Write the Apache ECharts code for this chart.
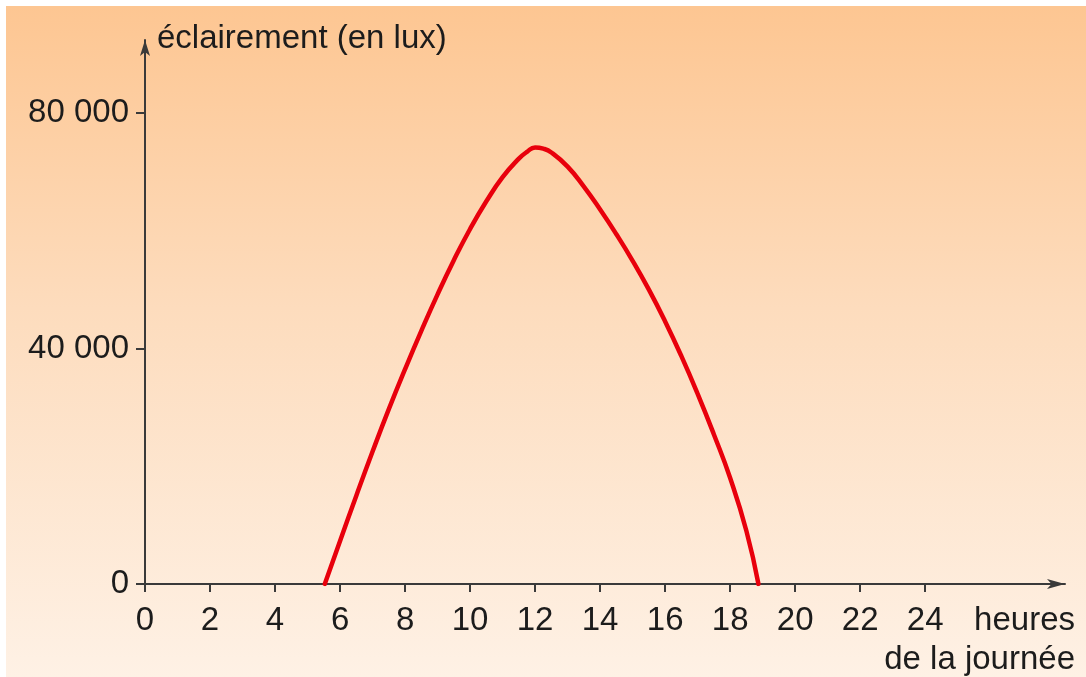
<!DOCTYPE html>
<html>
<head>
<meta charset="utf-8">
<script src="https://cdn.jsdelivr.net/npm/echarts@6/dist/echarts.min.js"></script>
<style>
  html, body { margin: 0; padding: 0; background: #ffffff; }
  #wrap { position: relative; width: 1086px; height: 677px; background: #ffffff; overflow: hidden; }
  #bg { position: absolute; left: 6px; top: 6px; right: 0; bottom: 0;
        background: linear-gradient(to bottom, #fdc692 0%, #fddcbd 45%, #fef1e5 100%); }
  #chart { position: absolute; left: 0; top: 0; width: 1086px; height: 677px; }
</style>
</head>
<body>
<div id="wrap"><div id="bg"></div><div id="chart"></div></div>
<script>
// Data
var hours = [5.53, 6.0, 6.5, 7.0, 7.5, 8.0, 8.5, 9.0, 9.5, 10.0, 10.5, 11.0, 11.5, 11.75, 12.0,
             12.25, 12.5, 13.0, 13.5, 14.0, 14.5, 15.0, 15.5, 16.0, 16.5, 17.0, 17.5, 18.0, 18.5, 18.87];
var lux = [0, 7300, 15000, 22500, 29700, 36500, 43000, 49200, 55000, 60300, 65000, 69100, 72250, 73400, 74150,
           73950, 73300, 70900, 67500, 63600, 59400, 54900, 50000, 44600, 38700, 32300, 25400, 18000, 9000, 0];
var xTicks = [0, 2, 4, 6, 8, 10, 12, 14, 16, 18, 20, 22, 24];
var yTicks = [0, 40000, 80000];
var yTitle = 'éclairement (en lux)';
var xTitle = 'heures\nde la journée';

var points = hours.map(function (h, i) { return [h, lux[i]]; });
var fontName = "'Liberation Sans', Arial, sans-serif";
var axisColor = '#3a3a3a';
var textColor = '#1c1c1c';

var chart = echarts.init(document.getElementById('chart'), null, { renderer: 'canvas' });
chart.setOption({
  backgroundColor: 'transparent',
  animation: false,
  title: {
    text: yTitle,
    left: 157,
    top: 22,
    padding: 0,
    textStyle: { fontFamily: fontName, fontSize: 33, fontWeight: 'normal', color: textColor }
  },
  graphic: [{
    type: 'text',
    x: 1075,
    y: 601,
    style: {
      text: xTitle,
      align: 'right',
      verticalAlign: 'top',
      fontFamily: fontName,
      fontSize: 33,
      lineHeight: 39,
      fill: textColor
    }
  }],
  grid: { left: 145, right: 21, top: 40, bottom: 93, containLabel: false, outerBoundsMode: 'none' },
  xAxis: {
    type: 'value',
    min: 0,
    max: 28.3,
    axisLine: { show: true, symbol: ['none', 'arrow'], symbolSize: [7.5, 18],
                lineStyle: { color: axisColor, width: 2 } },
    axisTick: { show: true, length: 8, customValues: xTicks,
                lineStyle: { color: axisColor, width: 2 } },
    axisLabel: { customValues: xTicks, margin: 20, fontFamily: fontName, fontSize: 33, color: textColor },
    splitLine: { show: false }
  },
  yAxis: {
    type: 'value',
    min: 0,
    max: 92400,
    axisLine: { show: true, symbol: ['none', 'arrow'], symbolSize: [7.5, 16],
                lineStyle: { color: axisColor, width: 2 } },
    axisTick: { show: true, length: 9, customValues: yTicks,
                lineStyle: { color: axisColor, width: 2 } },
    axisLabel: {
      customValues: yTicks, margin: 16, fontFamily: fontName, fontSize: 33, color: textColor,
      padding: [6, 0, 0, 0],
      formatter: function (v) { return String(v).replace(/\B(?=(\d{3})+(?!\d))/g, ' '); }
    },
    splitLine: { show: false }
  },
  series: [{
    type: 'line',
    data: points,
    smooth: 0.5,
    showSymbol: false,
    lineStyle: { color: '#e8000c', width: 4.5, cap: 'round', join: 'round' },
    z: 5
  }]
});
</script>
</body>
</html>
